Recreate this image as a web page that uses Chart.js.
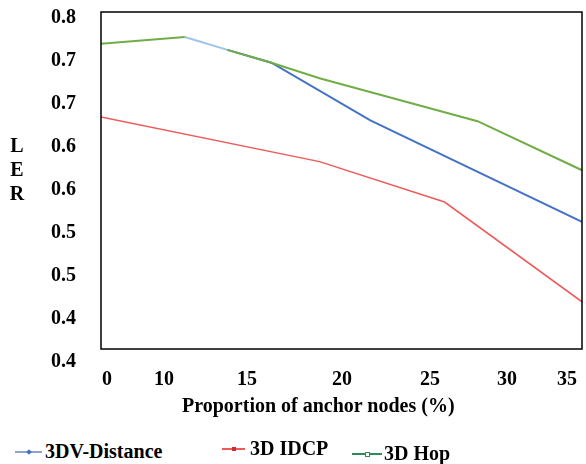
<!DOCTYPE html>
<html>
<head>
<meta charset="utf-8">
<title>LER vs proportion of anchor nodes</title>
<script src="https://cdn.jsdelivr.net/npm/chart.js@4.4.0/dist/chart.umd.min.js"></script>
<style>
  body { margin: 0; background: #fff; }
  #wrap {
    position: relative; width: 586px; height: 464px; overflow: hidden;
    font-family: 'Liberation Serif', 'Times New Roman', serif; font-weight: bold; color: #000;
  }
  #chartBox { position: absolute; left: 0; top: 0; }
  #yTitle {
    position: absolute; left: 8px; top: 133px; width: 18px;
    font-size: 20px; line-height: 24px; text-align: center;
  }
  #xTitle {
    position: absolute; left: 182px; top: 393px;
    font-size: 20px; line-height: 24px; white-space: nowrap;
  }
  .legText { position: absolute; font-size: 20px; line-height: 22px; white-space: nowrap; }
  .legLine { position: absolute; height: 0; border-top: 2px solid; }
  .legMark { position: absolute; width: 4px; height: 4px; }
</style>
</head>
<body>
<div id="wrap">
  <canvas id="chartBox" width="586" height="430"></canvas>
  <div id="yTitle">L<br>E<br>R</div>
  <div id="xTitle"></div>
  <div id="legend"></div>
</div>
<script>
// series (x = proportion of anchor nodes, y = LER)
const seriesNames = ['3DV-Distance', '3D IDCP', '3D Hop'];
const xAxisTitle = 'Proportion of anchor nodes (%)';

const xDistance = [6.1, 9.2, 12.4, 19.6, 35];
const lerDistance = [0.778, 0.763, 0.748, 0.681, 0.563];

const xIdcp = [0, 15.9, 25.0, 35];
const lerIdcp = [0.685, 0.633, 0.586, 0.470];

const xHop = [0, 6.1, 9.2, 12.4, 15.9, 27.4, 35];
const lerHop = [0.770, 0.778, 0.763, 0.748, 0.730, 0.680, 0.623];

// tick labels as printed (positions are uneven in the original)
const xTickValues = [0.44, 4.58, 10.62, 17.54, 23.94, 29.54, 33.91];
const xTickLabels = ['0', '10', '15', '20', '25', '30', '35'];
const yTickValues = [0.80, 0.75, 0.70, 0.65, 0.60, 0.55, 0.50, 0.45, 0.40];
const yTickLabels = ['0.8', '0.7', '0.7', '0.6', '0.6', '0.5', '0.5', '0.4', '0.4'];

const serif = "'Liberation Serif', 'Times New Roman', serif";
const blue = '#4472C4';
const blueLight = '#9DC3E6';
const red = '#EE5A5A';
const green = '#70AD47';

function toPoints(xs, ys) {
  return xs.map((x, i) => ({ x, y: ys[i] }));
}

// black box round the plot area
const frame = {
  id: 'frame',
  afterDatasetsDraw(chart) {
    const { ctx, chartArea: a } = chart;
    ctx.save();
    ctx.strokeStyle = '#000';
    ctx.lineWidth = 1.5;
    ctx.strokeRect(a.left, a.top, a.right - a.left, a.bottom - a.top);
    ctx.restore();
  },
};

const tickFont = { family: serif, size: 20, weight: 'bold' };

new Chart(document.getElementById('chartBox'), {
  type: 'line',
  data: {
    datasets: [
      {
        label: seriesNames[2],
        data: toPoints(xHop, lerHop),
        borderColor: green,
        borderWidth: 2,
        order: 0,
        segment: {
          borderColor: (c) => (c.p0DataIndex === 1 ? 'rgba(0,0,0,0)' : green),
        },
      },
      {
        label: seriesNames[0],
        data: toPoints(xDistance, lerDistance),
        borderColor: blue,
        borderWidth: 2,
        order: 1,
        segment: {
          borderColor: (c) => (c.p0DataIndex === 0 ? blueLight : blue),
        },
      },
      {
        label: seriesNames[1],
        data: toPoints(xIdcp, lerIdcp),
        borderColor: red,
        borderWidth: 1.5,
        order: 2,
      },
    ],
  },
  options: {
    responsive: false,
    animation: false,
    layout: { padding: { top: 12, right: 4, left: 0, bottom: 0 } },
    elements: { point: { radius: 0, hoverRadius: 0 }, line: { tension: 0 } },
    scales: {
      x: {
        type: 'linear',
        min: 0,
        max: 35,
        afterBuildTicks: (s) => { s.ticks = xTickValues.map((v) => ({ value: v })); },
        afterFit: (s) => {
          s.height = 81;
          s.paddingLeft = 0;
          s.paddingRight = 0;
        },
        grid: { display: false, drawTicks: false },
        border: { display: false },
        ticks: {
          autoSkip: false,
          maxRotation: 0,
          padding: 19,
          color: '#000',
          font: tickFont,
          callback: (v, i) => xTickLabels[i],
        },
      },
      y: {
        type: 'linear',
        min: 0.4151,
        max: 0.807,
        afterBuildTicks: (s) => { s.ticks = yTickValues.map((v) => ({ value: v })); },
        afterFit: (s) => {
          s.width = 101;
          s.paddingTop = 0;
          s.paddingBottom = 0;
        },
        grid: { display: false, drawTicks: false },
        border: { display: false },
        ticks: {
          autoSkip: false,
          padding: 25,
          color: '#000',
          font: tickFont,
          callback: (v, i) => yTickLabels[i],
        },
      },
    },
    plugins: {
      legend: { display: false },
      tooltip: { enabled: false },
    },
  },
  plugins: [frame],
});

// x axis title sits left of the plot centre in the original
document.getElementById('xTitle').textContent = xAxisTitle;

// legend under the chart
const legendPlaces = [
  { lineLeft: 15, lineWidth: 27, textLeft: 45, y: 451, line: '#8FA3D1', mark: blue, shape: 'diamond' },
  { lineLeft: 222, lineWidth: 23, textLeft: 250, y: 448, line: red, mark: '#C83030', shape: 'tri' },
  { lineLeft: 352, lineWidth: 30, textLeft: 384, y: 453, line: '#2E8B57', mark: '#2E8B57', shape: 'square' },
];
const legend = document.getElementById('legend');
[0, 1, 2].forEach((k) => {
  const p = legendPlaces[k];
  const line = document.createElement('div');
  line.className = 'legLine';
  line.style.cssText = `left:${p.lineLeft}px;top:${p.y}px;width:${p.lineWidth}px;border-color:${p.line}`;
  legend.appendChild(line);
  const mark = document.createElement('div');
  mark.className = 'legMark';
  const mx = p.lineLeft + p.lineWidth / 2 - 2;
  mark.style.cssText = `left:${mx}px;top:${p.y - 1}px;background:${p.mark};` +
    (p.shape === 'diamond' ? 'transform:rotate(45deg);' : '') +
    (p.shape === 'square' ? 'background:#fff;border:1px solid ' + p.mark + ';width:3px;height:3px;' : '');
  legend.appendChild(mark);
  const txt = document.createElement('div');
  txt.className = 'legText';
  txt.style.cssText = `left:${p.textLeft}px;top:${p.y - 11}px`;
  txt.textContent = seriesNames[k];
  legend.appendChild(txt);
});
</script>
</body>
</html>
